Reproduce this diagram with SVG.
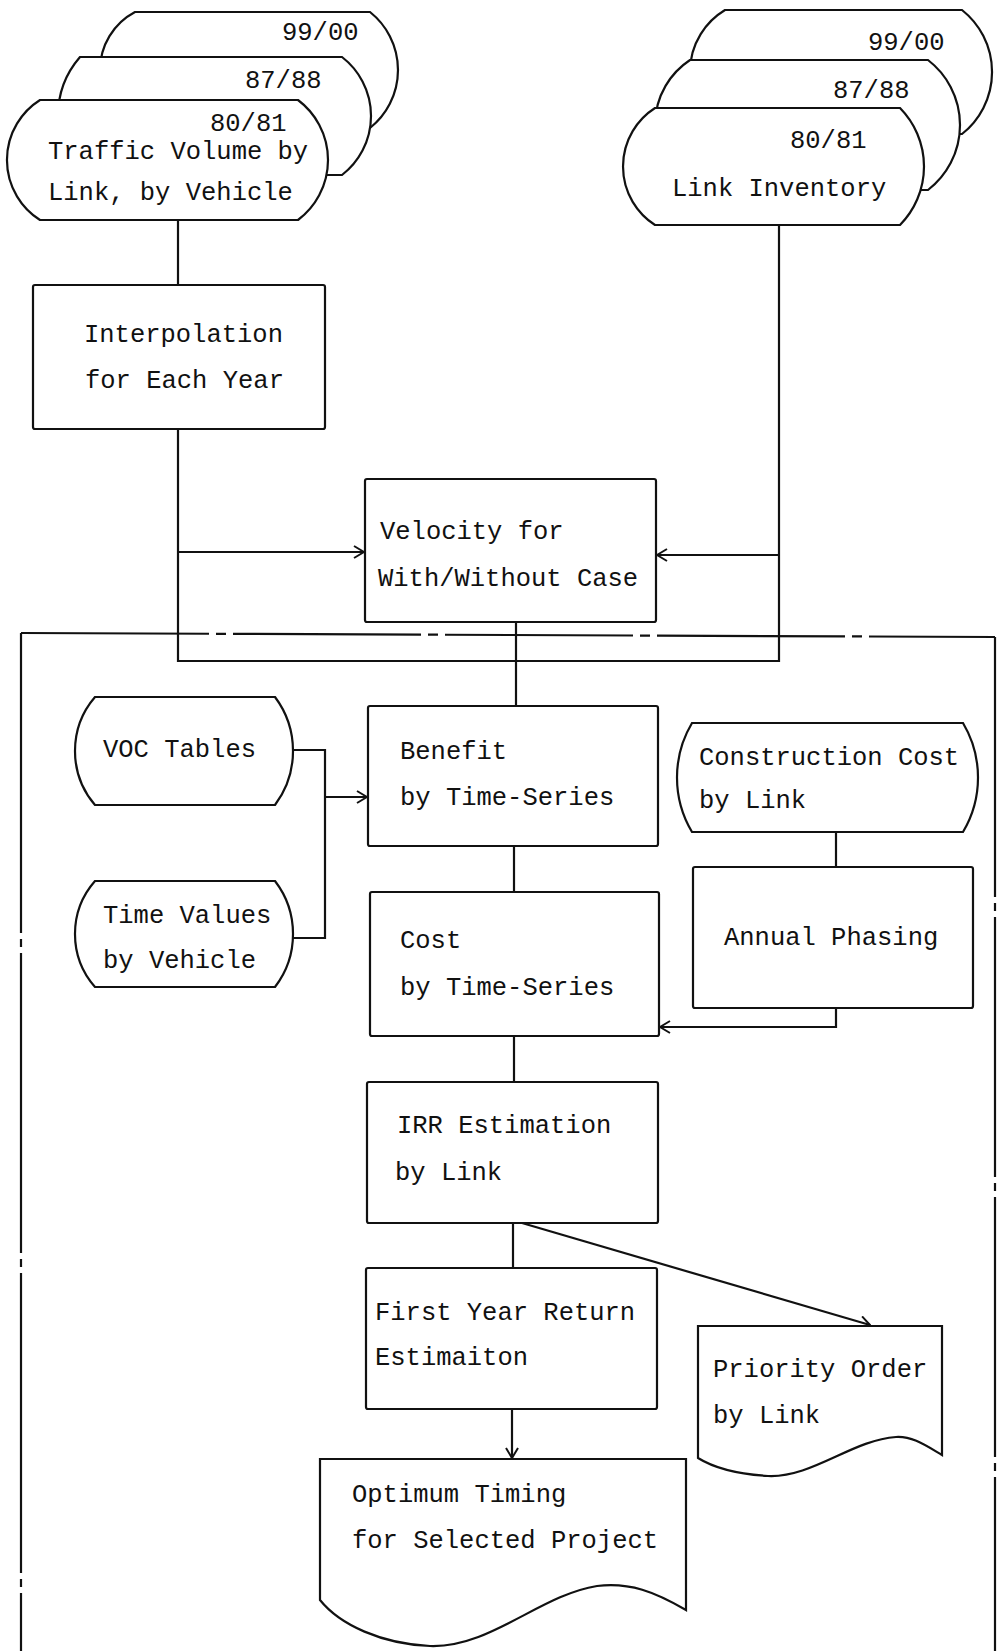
<svg xmlns="http://www.w3.org/2000/svg" width="998" height="1651" viewBox="0 0 998 1651">
<defs>
<style>
.n{fill:#fff;stroke:#111;stroke-width:2.2}
.c{fill:none;stroke:#111;stroke-width:2.2}
.t{font-family:"Liberation Mono","Courier New",monospace;font-size:25.5px;fill:#111}
.fr{fill:none;stroke:#111;stroke-width:2.2}
</style>
<marker id="ah" viewBox="0 0 12 14" refX="11" refY="7" markerWidth="12" markerHeight="14" markerUnits="userSpaceOnUse" orient="auto">
<path d="M1,1 L11,7 L1,13" fill="none" stroke="#111" stroke-width="2"/>
</marker>
</defs>
<rect width="998" height="1651" fill="#fff"/>

<g id="frame">
<path class="fr" d="M21,633 L995,637" stroke-dasharray="188 7 10 7"/>
<path class="fr" d="M21,633 L21,1651" stroke-dasharray="300 6 8 6"/>
<path class="fr" d="M995,637 L995,1651" stroke-dasharray="260 6 8 6"/>
</g>

<g id="connectors">
<path class="c" d="M178,220 V285"/>
<path class="c" d="M178,429 V661 H779 V225"/>
<path class="c" d="M178,552 H364" marker-end="url(#ah)"/>
<path class="c" d="M779,555 H657" marker-end="url(#ah)"/>
<path class="c" d="M516,622 V706"/>
<path class="c" d="M293,750 H325 V938 H293"/>
<path class="c" d="M325,797 H367" marker-end="url(#ah)"/>
<path class="c" d="M514,846 V892"/>
<path class="c" d="M836,832 V867"/>
<path class="c" d="M836,1008 V1027 H660" marker-end="url(#ah)"/>
<path class="c" d="M514,1036 V1082"/>
<path class="c" d="M513,1223 V1268"/>
<path class="c" d="M522,1223 L870,1325" marker-end="url(#ah)"/>
<path class="c" d="M512,1409 V1458" marker-end="url(#ah)"/>
</g>

<g id="traffic-99-00">
<path class="n" d="M135,12 H370 A74.1,74.1 0 0 1 370,128 H135 A65.6,65.6 0 0 1 135,12 Z"/>
<text class="t" x="282" y="40">99/00</text>
</g>
<g id="traffic-87-88">
<path class="n" d="M80,57 H342 A74.5,74.5 0 0 1 342,175 H80 A90.1,90.1 0 0 1 80,57 Z"/>
<text class="t" x="245" y="88">87/88</text>
</g>
<g id="traffic-80-81">
<path class="n" d="M40,100 H298 A75,75 0 0 1 298,220 H40 A71,71 0 0 1 40,100 Z"/>
<text class="t" x="210" y="131">80/81</text>
<text class="t" x="48" y="159">Traffic Volume by</text>
<text class="t" x="48" y="200">Link, by Vehicle</text>
</g>

<g id="link-99-00">
<path class="n" d="M725,10 H962 A79,79 0 0 1 962,134 H725 A72.4,72.4 0 0 1 725,10 Z"/>
<text class="t" x="868" y="50">99/00</text>
</g>
<g id="link-87-88">
<path class="n" d="M690,60 H928 A82,82 0 0 1 928,190 H690 A77.9,77.9 0 0 1 690,60 Z"/>
<text class="t" x="833" y="98">87/88</text>
</g>
<g id="link-80-81">
<path class="n" d="M655,108 H900 A83.3,83.3 0 0 1 900,225 H655 A69.5,69.5 0 0 1 655,108 Z"/>
<text class="t" x="790" y="148">80/81</text>
<text class="t" x="672" y="196">Link Inventory</text>
</g>

<g id="interpolation">
<rect class="n" x="33" y="285" width="292" height="144" rx="2"/>
<text class="t" x="84" y="342">Interpolation</text>
<text class="t" x="85" y="388">for Each Year</text>
</g>

<g id="velocity">
<rect class="n" x="365" y="479" width="291" height="143" rx="2"/>
<text class="t" x="380" y="539">Velocity for</text>
<text class="t" x="378" y="586">With/Without Case</text>
</g>

<g id="voc">
<path class="n" d="M95,697 H275 A90,90 0 0 1 275,805 H95 A82.9,82.9 0 0 1 95,697 Z"/>
<text class="t" x="103" y="757">VOC Tables</text>
</g>

<g id="time-values">
<path class="n" d="M95,881 H275 A87,87 0 0 1 275,987 H95 A80.2,80.2 0 0 1 95,881 Z"/>
<text class="t" x="103" y="923">Time Values</text>
<text class="t" x="103" y="968">by Vehicle</text>
</g>

<g id="benefit">
<rect class="n" x="368" y="706" width="290" height="140" rx="2"/>
<text class="t" x="400" y="759">Benefit</text>
<text class="t" x="400" y="805">by Time-Series</text>
</g>

<g id="construction-cost">
<path class="n" d="M692,723 H963 A106.5,106.5 0 0 1 963,832 H692 A106.5,106.5 0 0 1 692,723 Z"/>
<text class="t" x="699" y="765">Construction Cost</text>
<text class="t" x="699" y="808">by Link</text>
</g>

<g id="annual-phasing">
<rect class="n" x="693" y="867" width="280" height="141" rx="2"/>
<text class="t" x="724" y="945">Annual Phasing</text>
</g>

<g id="cost">
<rect class="n" x="370" y="892" width="289" height="144" rx="2"/>
<text class="t" x="400" y="948">Cost</text>
<text class="t" x="400" y="995">by Time-Series</text>
</g>

<g id="irr">
<rect class="n" x="367" y="1082" width="291" height="141" rx="2"/>
<text class="t" x="397" y="1133">IRR Estimation</text>
<text class="t" x="395" y="1180">by Link</text>
</g>

<g id="first-year">
<rect class="n" x="366" y="1268" width="291" height="141" rx="2"/>
<text class="t" x="375" y="1320">First Year Return</text>
<text class="t" x="375" y="1365">Estimaiton</text>
</g>

<g id="priority">
<path class="n" d="M698,1326 H942 V1455 C925,1445 912,1436 896,1437 C852,1440 812,1478 768,1476 C736,1474 714,1468 698,1458 Z"/>
<text class="t" x="713" y="1377">Priority Order</text>
<text class="t" x="713" y="1423">by Link</text>
</g>

<g id="optimum">
<path class="n" d="M320,1459 H686 V1610 C655,1592 630,1582 597,1586 C540,1595 490,1648 430,1646 C382,1644 340,1625 320,1600 Z"/>
<text class="t" x="352" y="1502">Optimum Timing</text>
<text class="t" x="352" y="1548">for Selected Project</text>
</g>
</svg>
